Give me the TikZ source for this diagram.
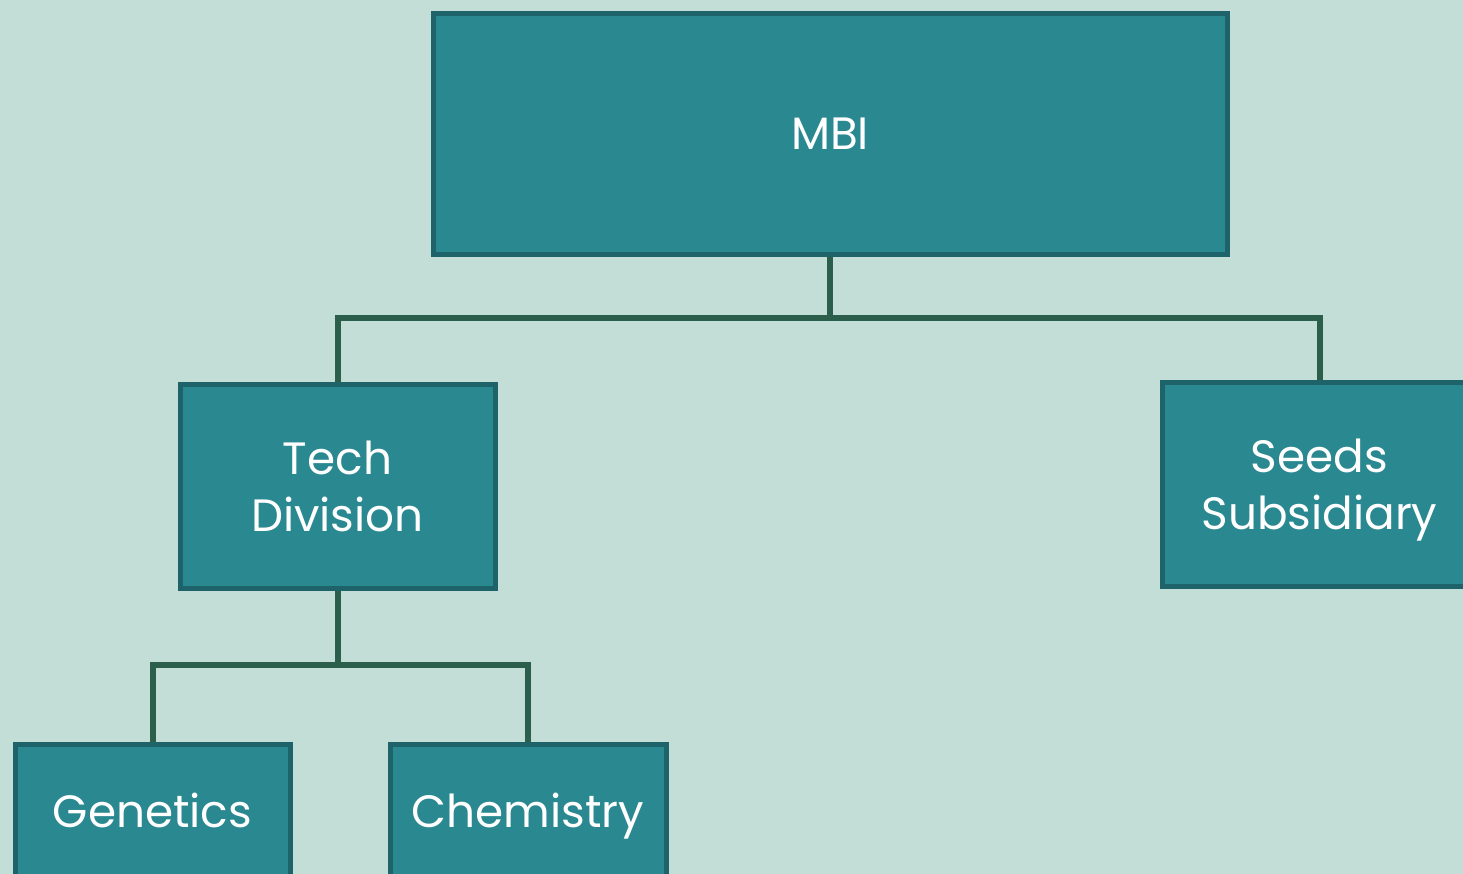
\documentclass[tikz,border=0pt]{standalone}
\usepackage{fontspec}
\setmainfont{Poppins}
\definecolor{cPage}{HTML}{C2DED7}
\definecolor{cUnit}{HTML}{2A8891}
\definecolor{cEdge}{HTML}{1D6369}
\definecolor{cLink}{HTML}{2C5E4C}
\usetikzlibrary{positioning}

\begin{document}
\begin{tikzpicture}[x=0.75pt,y=-0.75pt,
      unit/.style={draw=cEdge,fill=cUnit,line width=3.75pt,text=white,
                   align=center,inner sep=0pt,text depth=0pt,
                   font=\fontsize{34}{42.75}\selectfont},
      link/.style={draw=cLink,line width=4.5pt}]
    % page
    \fill[cPage] (0,0) rectangle (1463,874);
    \useasboundingbox (0,0) rectangle (1463,874);
    \clip (0,0) rectangle (1463,874);
    % units
    \node[unit,minimum width=595.5pt,minimum height=180pt] (mbi) at (830,134) {MBI};
    \node[unit,minimum width=236.25pt,minimum height=153pt] (tech) at (337.5,486) {Tech\\Division};
    \node[unit,minimum width=236.25pt,minimum height=153pt] (seeds) at (1319.5,484) {Seeds\\Subsidiary};
    \node[unit,minimum width=206.25pt,minimum height=99pt] (gen) at (152.5,810) {Genetics};
    \node[unit,minimum width=207pt,minimum height=99pt] (chem) at (528,810) {Chemistry};
    % links
    \coordinate (split) at (830,318);
    \coordinate (techsplit) at (337.5,665);
    \draw[link] (mbi.south) -- (split) -| (tech.north);
    \draw[link] (split) -| (seeds.north);
    \draw[link] (tech.south) -- (techsplit) -| (gen.north);
    \draw[link] (techsplit) -| (chem.north);
\end{tikzpicture}
\end{document}
